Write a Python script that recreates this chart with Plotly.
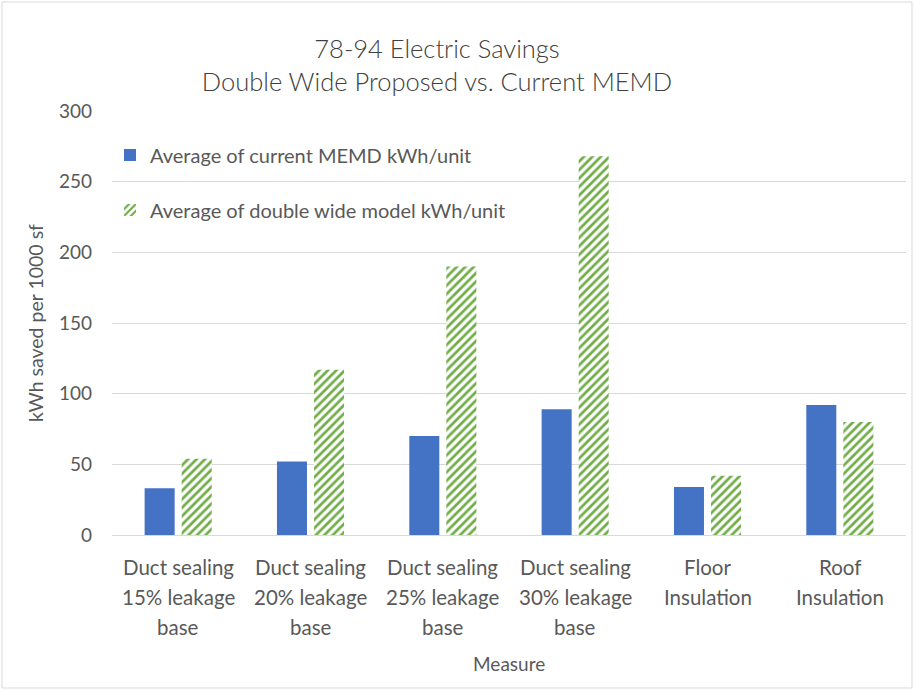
import plotly.graph_objects as go

# Measures and average savings (kWh saved per 1000 sf)
categories = [
    "Duct sealing\n15% leakage\nbase",
    "Duct sealing\n20% leakage\nbase",
    "Duct sealing\n25% leakage\nbase",
    "Duct sealing\n30% leakage\nbase",
    "Floor\nInsulation",
    "Roof\nInsulation",
]
current_memd = [33, 52, 70, 89, 34, 92]
double_wide = [54, 117, 190, 268, 42, 80]
y_ticks = [0, 50, 100, 150, 200, 250, 300]

W, H = 914, 690
ML, MR, MT, MB = 112, 8, 111, 155
PW, PH = W - ML - MR, H - MT - MB

BLUE = "#4472C4"
GREEN = "#70AD47"
TEXT = "#595959"
FONT = "Lato"

fig = go.Figure()
fig.add_trace(go.Bar(
    x=categories, y=current_memd,
    name="Average of current MEMD kWh/unit",
    marker=dict(color=BLUE, line=dict(width=0)),
    legend="legend",
))
fig.add_trace(go.Bar(
    x=categories, y=double_wide,
    name="Average of double wide model kWh/unit",
    marker=dict(
        color="white",
        line=dict(width=0),
        pattern=dict(shape="/", fgcolor=GREEN, bgcolor="white",
                     size=6, solidity=0.45, fillmode="replace"),
    ),
    legend="legend2",
))

# category labels, one annotation per text line for Excel-like line spacing
LINE_GAP = 30
for cat in categories:
    for i, line in enumerate(cat.split("\n")):
        fig.add_annotation(
            x=cat, xref="x", y=-(32 + LINE_GAP * i) / PH, yref="paper",
            text=line, showarrow=False, xanchor="center", yanchor="middle",
            font=dict(family=FONT, size=20.5, color=TEXT),
        )

# axis title below the category labels
fig.add_annotation(
    x=0.5, xref="paper", y=-(663 - MT - PH) / PH, yref="paper",
    text="Measure", showarrow=False, xanchor="center", yanchor="middle",
    font=dict(family=FONT, size=19, color=TEXT),
)

# light frame around the whole chart area
fig.add_shape(
    type="rect", xref="paper", yref="paper",
    x0=(2 - ML) / PW, x1=(W - 2 - ML) / PW,
    y0=-(H - 2 - MT - PH) / PH, y1=1 + (MT - 2) / PH,
    line=dict(color="#D9D9D9", width=1), layer="below",
)

legend_common = dict(
    xref="paper", yref="paper", xanchor="left", yanchor="middle",
    bgcolor="rgba(0,0,0,0)", font=dict(family=FONT, size=20, color=TEXT),
    itemwidth=30,
)

fig.update_layout(
    width=W, height=H,
    margin=dict(l=ML, r=MR, t=MT, b=MB),
    paper_bgcolor="white", plot_bgcolor="white",
    font=dict(family=FONT, color=TEXT),
    title=dict(
        text="78-94 Electric Savings<br>Double Wide Proposed vs. Current MEMD",
        x=437 / W, xanchor="center", xref="container",
        y=1 - 58 / H, yanchor="middle", yref="container",
        font=dict(family=FONT, size=25.5, color="#404040", weight=300),
    ),
    barmode="group", bargap=0.44, bargroupgap=0.19,
    showlegend=True,
    legend=dict(x=(110 - ML) / PW, y=1 - (155 - MT) / PH, **legend_common),
    legend2=dict(x=(110 - ML) / PW, y=1 - (210 - MT) / PH, **legend_common),
    xaxis=dict(
        showline=True, linecolor="#D9D9D9", linewidth=1,
        showticklabels=False, ticks="",
    ),
    yaxis=dict(
        range=[0, 300], tickvals=y_ticks,
        showgrid=True, gridcolor="#D9D9D9", gridwidth=1,
        zeroline=False, showline=False, ticks="",
        ticklabelstandoff=19,
        tickfont=dict(family=FONT, size=19, color=TEXT),
        title=dict(text="kWh saved per 1000 sf", font=dict(family=FONT, size=19.5, color=TEXT), standoff=10),
    ),
)

fig.write_html("out.html")
